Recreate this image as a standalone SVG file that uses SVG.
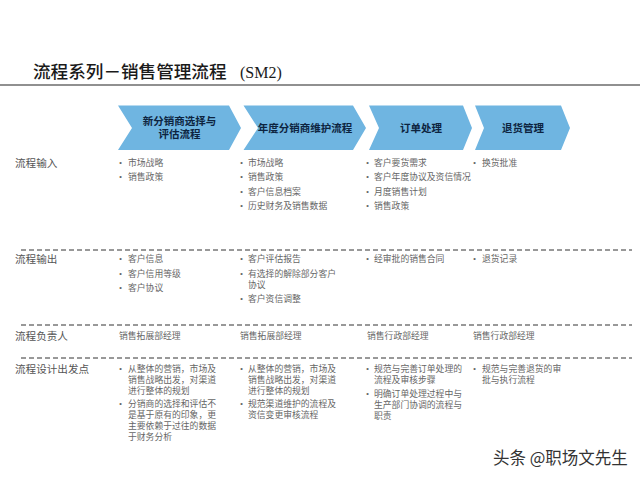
<svg xmlns="http://www.w3.org/2000/svg" width="640" height="480" viewBox="0 0 640 480">
<style>
text{font-family:"Liberation Serif","Noto Sans CJK SC",serif}
.t{font-size:17.6px;fill:#1a1a1a;font-weight:500}
.h{font-size:10.5px;fill:#0d2440;font-weight:700;text-anchor:middle}
.l{font-size:10.6px;fill:#555}
.b{font-size:8.8px;fill:#666}
.c{fill:#6fb5e1}
.d{stroke:#333;stroke-width:1;stroke-dasharray:5 3;fill:none}
</style>
<rect width="640" height="480" fill="#fff"/>
<text class="t" x="33" y="78">流程系列－销售管理流程</text>
<text class="t" x="240" y="77.500" style="font-size:16px">(SM2)</text>
<line x1="0" y1="85" x2="640" y2="85" stroke="#222" stroke-width="1.2"/>
<g id="connectors">
<line class="d" x1="21" y1="250" x2="632" y2="250"/>
<line class="d" x1="21" y1="325" x2="632" y2="325"/>
<line class="d" x1="21" y1="358" x2="632" y2="358"/>
</g>
<g id="node-1"><polygon class="c" points="118,105.5 229,105.5 241,128 229,150 118,150 132,128"/>
<text class="h" x="179.500" y="125">新分销商选择与</text><text class="h" x="179.500" y="138">评估流程</text></g>
<g id="node-2"><polygon class="c" points="243.500,105.500 353,105.500 366,128 353,150 243.500,150 258,128"/>
<text class="h" x="305" y="132">年度分销商维护流程</text></g>
<g id="node-3"><polygon class="c" points="369,105.500 463,105.500 472,128 463,150 369,150 379,128"/>
<text class="h" x="421" y="132">订单处理</text></g>
<g id="node-4"><polygon class="c" points="475,105.500 561,105.500 570,128 561,150 475,150 484,128"/>
<text class="h" x="523" y="132">退货管理</text></g>
<g id="labels">
<text class="l" x="15" y="167">流程输入</text>
<text class="l" x="15" y="263">流程输出</text>
<text class="l" x="15" y="340">流程负责人</text>
<text class="l" x="15" y="373">流程设计出发点</text>
</g>
<g id="col-1">
<text class="b" x="119" y="165.500">•</text><text class="b" x="128" y="165.500">市场战略</text>
<text class="b" x="119" y="180">•</text><text class="b" x="128" y="180">销售政策</text>
<text class="b" x="119" y="262">•</text><text class="b" x="128" y="262">客户信息</text>
<text class="b" x="119" y="276.500">•</text><text class="b" x="128" y="276.500">客户信用等级</text>
<text class="b" x="119" y="291">•</text><text class="b" x="128" y="291">客户协议</text>
<text class="b" x="119" y="338.500">销售拓展部经理</text>
<text class="b" x="119" y="371.500">•</text><text class="b" x="128" y="371.500">从整体的营销，市场及</text>
<text class="b" x="128" y="382.500">销售战略出发，对渠道</text>
<text class="b" x="128" y="393.500">进行整体的规划</text>
<text class="b" x="119" y="407">•</text><text class="b" x="128" y="407">分销商的选择和评估不</text>
<text class="b" x="128" y="418">是基于原有的印象，更</text>
<text class="b" x="128" y="429">主要依赖于过往的数据</text>
<text class="b" x="128" y="440">于财务分析</text>
</g>
<g id="col-2">
<text class="b" x="240" y="165.500">•</text><text class="b" x="248" y="165.500">市场战略</text>
<text class="b" x="240" y="180">•</text><text class="b" x="248" y="180">销售政策</text>
<text class="b" x="240" y="194.500">•</text><text class="b" x="248" y="194.500">客户信息档案</text>
<text class="b" x="240" y="208.500">•</text><text class="b" x="248" y="208.500">历史财务及销售数据</text>
<text class="b" x="240" y="262">•</text><text class="b" x="248" y="262">客户评估报告</text>
<text class="b" x="240" y="276.500">•</text><text class="b" x="248" y="276.500">有选择的解除部分客户</text>
<text class="b" x="248" y="287.500">协议</text>
<text class="b" x="240" y="302">•</text><text class="b" x="248" y="302">客户资信调整</text>
<text class="b" x="240" y="338.500">销售拓展部经理</text>
<text class="b" x="240" y="371.500">•</text><text class="b" x="248" y="371.500">从整体的营销，市场及</text>
<text class="b" x="248" y="382.500">销售战略出发，对渠道</text>
<text class="b" x="248" y="393.500">进行整体的规划</text>
<text class="b" x="240" y="407">•</text><text class="b" x="248" y="407">规范渠道维护的流程及</text>
<text class="b" x="248" y="418">资信变更审核流程</text>
</g>
<g id="col-3">
<text class="b" x="366" y="165.500">•</text><text class="b" x="374" y="165.500">客户要货需求</text>
<text class="b" x="366" y="180">•</text><text class="b" x="374" y="180">客户年度协议及资信情况</text>
<text class="b" x="366" y="194.500">•</text><text class="b" x="374" y="194.500">月度销售计划</text>
<text class="b" x="366" y="208.500">•</text><text class="b" x="374" y="208.500">销售政策</text>
<text class="b" x="366" y="262">•</text><text class="b" x="374" y="262">经审批的销售合同</text>
<text class="b" x="367" y="338.500">销售行政部经理</text>
<text class="b" x="366" y="371.500">•</text><text class="b" x="374" y="371.500">规范与完善订单处理的</text>
<text class="b" x="374" y="382.500">流程及审核步骤</text>
<text class="b" x="366" y="396.500">•</text><text class="b" x="374" y="396.500">明确订单处理过程中与</text>
<text class="b" x="374" y="407.500">生产部门协调的流程与</text>
<text class="b" x="374" y="418.500">职责</text>
</g>
<g id="col-4">
<text class="b" x="473" y="165.500">•</text><text class="b" x="482" y="165.500">换货批准</text>
<text class="b" x="473" y="262">•</text><text class="b" x="482" y="262">退货记录</text>
<text class="b" x="473" y="338.500">销售行政部经理</text>
<text class="b" x="473" y="371.500">•</text><text class="b" x="482" y="371.500">规范与完善退货的审</text>
<text class="b" x="482" y="382.500">批与执行流程</text>
</g>
<text x="493" y="464" font-size="16.500" fill="#333" style="font-family:'Noto Sans CJK SC',sans-serif">头条 @职场文先生</text>
</svg>
